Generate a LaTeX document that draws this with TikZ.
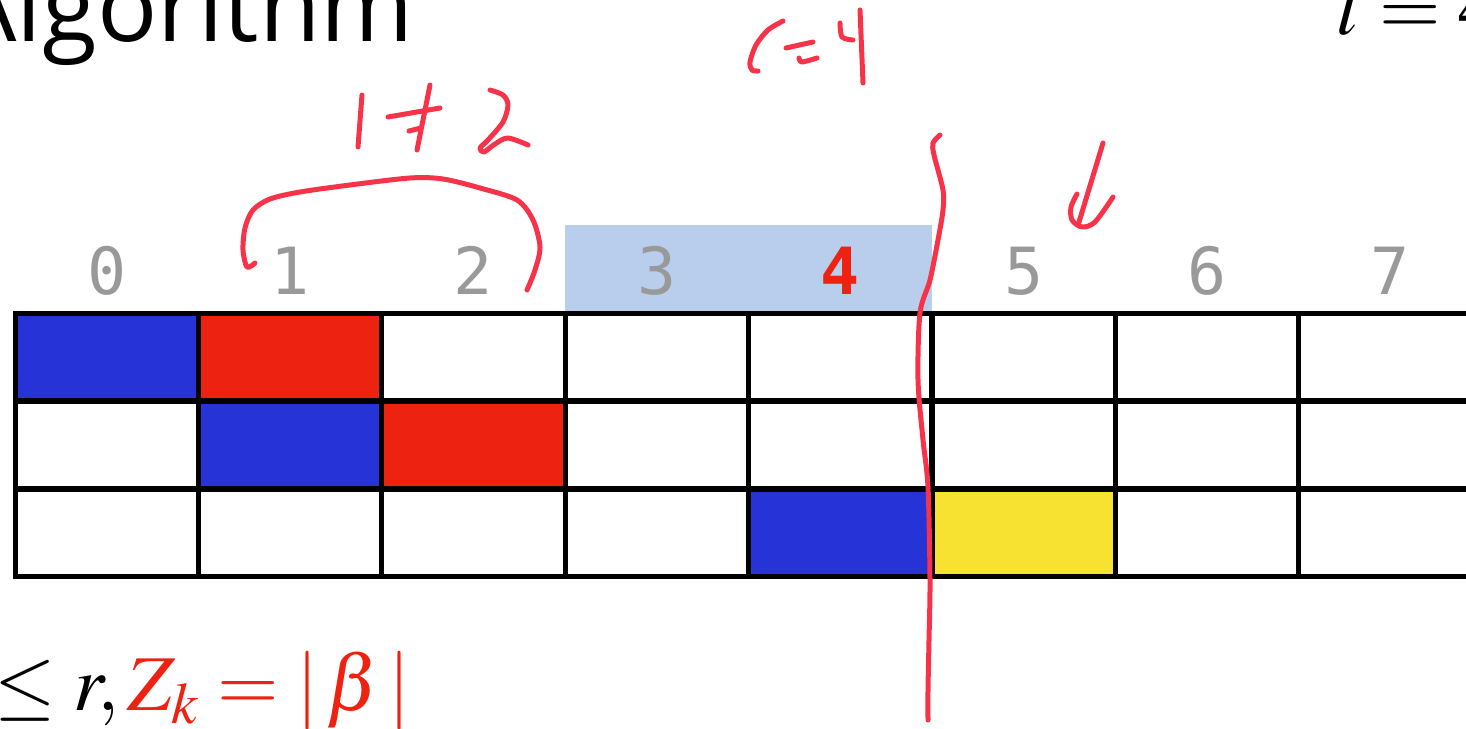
\documentclass[tikz,border=0pt]{standalone}
\usepackage{mathptmx}
\usepackage{fontspec}
\newfontfamily\titlefont{Open Sans}
\newfontfamily\idxfont{DejaVu Sans Mono}
\usepackage{xcolor}
\usetikzlibrary{positioning, backgrounds}

\definecolor{cellblue}{HTML}{2633D6}
\definecolor{cellred}{HTML}{EE2211}
\definecolor{cellyellow}{HTML}{F8E231}
\definecolor{winblue}{HTML}{B9CEEC}
\definecolor{idxgray}{HTML}{999999}
\definecolor{ink}{HTML}{F7334A}

\tikzset{
  cell/.style={draw,line width=0.1cm,minimum width=3.668cm,minimum height=1.76cm,inner sep=0pt,outer sep=0pt},
  idx/.style={anchor=base,inner sep=0pt,text=idxgray,font=\idxfont\fontsize{37}{40}\selectfont},
  ink/.style={draw=ink,line width=0.1cm,line cap=round,line join=round}
}

\begin{document}
\begin{tikzpicture}[x=0.02cm,y=-0.02cm]
\useasboundingbox (0,0) rectangle (1466,729);
\clip (0,0) rectangle (1466,729);
\node[anchor=base east,inner sep=0pt,font=\titlefont\fontsize{57}{60}\selectfont] (title) at (414,42) {Algorithm};
\node[anchor=base west,inner sep=0pt,font=\fontsize{45}{50}\selectfont] (lval) at (1336,35) {$l = 4$};
% memory grid
\foreach \r in {0,1,2} {
  \foreach \c in {0,...,7} {
    \node[cell] (c\r\c) at ({106.7+183.4*\c},{357+88*\r}) {};
  }
}
\begin{scope}[on background layer]
\fill[winblue] ([yshift=1.76cm]c03.north west) rectangle (c04.north east);
\foreach \r/\c/\col in {0/0/cellblue,0/1/cellred,1/1/cellblue,1/2/cellred,2/4/cellblue,2/5/cellyellow} {
  \fill[\col] (c\r\c.north west) rectangle (c\r\c.south east);
}
\end{scope}
\foreach \c in {0,1,2,3,5,6,7} {
  \node[idx] (i\c) at ({106.7+183.4*\c},295) {\c};
}
\node[idx,text=cellred,font=\idxfont\bfseries\fontsize{37}{40}\selectfont] (i4) at ({106.7+183.4*4},295) {4};
\node[anchor=base west,inner sep=0pt,font=\fontsize{45}{50}\selectfont] (cond) at (-6,710) {$\le r, {\color{cellred}Z_k = |\,\beta\,|}$};
% pen notes
\draw[ink] plot[smooth] coordinates {(783,21) (768,30) (756,45) (750,62) (752,70) (758,71)};
\draw[ink] (786,48) -- (813,42);
\draw[ink] plot[smooth] coordinates {(799,58) (802,62) (817,58)};
\draw[ink] plot[smooth] coordinates {(840,23) (842,37) (853,40)};
\draw[ink] (860,10) -- (863,83);
\draw[ink] (362,95) -- (358,147);
\draw[ink] (388,117) -- (440,108);
\draw[ink] (430,85) -- (417,150);
\draw[ink] (409,131) -- (421,128);
\draw[ink] plot[smooth] coordinates {(490,90) (503,95) (508,105) (503,122) (488,140) (480,148) (484,152) (495,144) (508,138) (528,145)};
\draw[ink] plot[smooth] coordinates {(255,263) (247,267) (243,250) (245,228) (253,210) (270,199) (300,192) (350,185) (410,178) (443,179) (480,188) (517,200) (533,220) (540,247) (535,270) (527,290)};
\draw[ink] plot[smooth] coordinates {(940,135) (933,143) (934,155) (943,190) (943,210) (938,240) (930,280) (920,313) (918,380) (923,440) (928,487) (930,580) (929,640) (928,690) (928,720)};
\draw[ink] (1103,143) -- (1079,222);
\draw[ink] plot[smooth] coordinates {(1077,194) (1071,207) (1072,220) (1082,227) (1095,222) (1113,197)};
\end{tikzpicture}
\end{document}
